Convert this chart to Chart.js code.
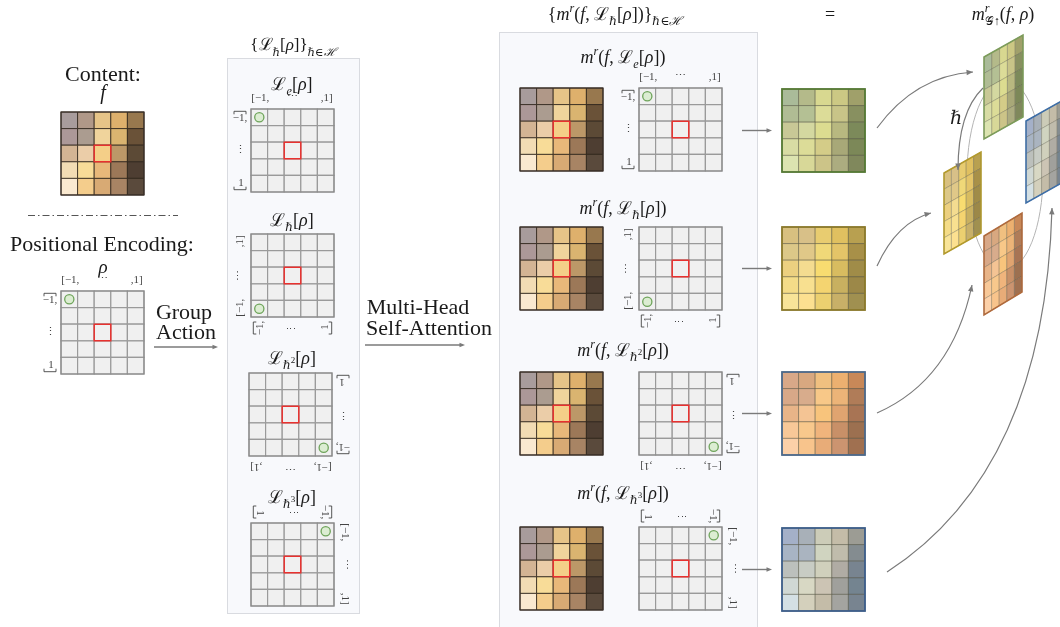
<!DOCTYPE html>
<html>
<head>
<meta charset="utf-8">
<script src="https://cdn.jsdelivr.net/npm/chart.js@4.4.1/dist/chart.umd.min.js"></script>
<style>
  html, body { margin: 0; padding: 0; background: #fff; }
</style>
</head>
<body>
<canvas id="diagram" width="1060" height="627"></canvas>
<script>
// --- data ---
const CELL = 16.6;

// content feature f, 5x5
const contentColors = [
  ['#a89c9c', '#b09888', '#e6c488', '#deb06c', '#98784e'],
  ['#ac9898', '#ab9c90', '#f0d49c', '#dab470', '#6a5238'],
  ['#d3b494', '#ebcda8', '#f4cf88', '#bc9868', '#5c4a36'],
  ['#f2dcb4', '#f8dc98', '#e8b87a', '#9c7858', '#4e3e32'],
  ['#fae9d0', '#f4cd8c', '#d8aa74', '#a88464', '#5a4a3c']
];
// outputs m^r(f, L_h[rho]) for e, h, h^2, h^3
const greenColors = [
  ['#aabb99', '#b4ba8a', '#d8d890', '#ccc884', '#a0a06a'],
  ['#b0bc94', '#b4c094', '#dcdc98', '#c8c488', '#889060'],
  ['#c8c896', '#d4d8a0', '#dcdc90', '#b8b880', '#7c8a5a'],
  ['#d8dca4', '#dcdc98', '#d4cc88', '#a8a878', '#7c8858'],
  ['#dce4b0', '#d8d898', '#ccc488', '#acac80', '#80885c']
];
const yellowColors = [
  ['#d8c080', '#d8c088', '#e8cc70', '#e0c060', '#b8a050'],
  ['#dcc888', '#e0c888', '#f0d878', '#e4c468', '#a89048'],
  ['#ecd080', '#f4dc90', '#f8dc70', '#d8bc60', '#a08c48'],
  ['#f4dc88', '#f8e090', '#f4d470', '#c8b060', '#9c8848'],
  ['#f8e498', '#fce090', '#ecd070', '#c8b068', '#a09050']
];
const orangeColors = [
  ['#d8a888', '#d8a880', '#f0c080', '#ecb070', '#c88858'],
  ['#d8a888', '#d8ac8c', '#f8c888', '#ecb478', '#b07c58'],
  ['#e8b488', '#f4c494', '#f8c47c', '#e0a470', '#a87454'],
  ['#f8c898', '#f8c88c', '#f0b47c', '#c89068', '#9c7050'],
  ['#fcd0a8', '#f8c48c', '#e8ac78', '#cc9470', '#a07050']
];
const blueColors = [
  ['#a4b0c8', '#a8b0b8', '#ccccb8', '#c4bca8', '#9c9c94'],
  ['#a8b4c4', '#aab4c0', '#d0d4c0', '#c0bcac', '#848c90'],
  ['#bcc0bc', '#c8ccc4', '#d0d0bc', '#b0aca4', '#788490'],
  ['#d0d8d4', '#d8d8c4', '#ccc4b4', '#a0a09c', '#748490'],
  ['#d4e0e4', '#d4d0bc', '#c4bca8', '#a4a4a0', '#788490']
];

// tick labels of the positional encoding grids
const colLabels = ['[\u22121,', '\u22ef', ',1]'];
const rowLabels = ['\u22121,', '\u22ee', '1'];

// --- layout ---
const contentGrids = [
  { x: 61, y: 112 }, { x: 520, y: 88 }, { x: 520, y: 227 }, { x: 520, y: 372 }, { x: 520, y: 527 }
];
const posGrids = [
  { x: 61, y: 291, k: 0 },
  { x: 251, y: 109, k: 0 }, { x: 251, y: 234, k: 1 }, { x: 249, y: 373, k: 2 }, { x: 251, y: 523, k: 3 },
  { x: 639, y: 88, k: 0 }, { x: 639, y: 227, k: 1 }, { x: 639, y: 372, k: 2 }, { x: 639, y: 527, k: 3 }
];
const outGrids = [
  { x: 782, y: 89, colors: greenColors, edge: '#567a36' },
  { x: 782, y: 227, colors: yellowColors, edge: '#8c7a2c' },
  { x: 782, y: 372, colors: orangeColors, edge: '#4d6a8c' },
  { x: 782, y: 528, colors: blueColors, edge: '#3d5f8c' }
];
const panels3d = [
  { x: 984, y: 57, w: 39, h: 82, dy: 22, colors: greenColors, edge: '#7c9c5a' },
  { x: 1026, y: 121, w: 39, h: 82, dy: 22, colors: blueColors, edge: '#3d6ea8' },
  { x: 944, y: 173, w: 37, h: 81, dy: 21, colors: yellowColors, edge: '#b39a2c' },
  { x: 984, y: 236, w: 38, h: 79, dy: 23, colors: orangeColors, edge: '#b06a3c' }
];

const FONT = '"Liberation Serif", "DejaVu Serif", serif';

function cellPoints(g) {
  const pts = [];
  for (let i = 0; i < 5; i++) {
    for (let j = 0; j < 5; j++) pts.push({ x: g.x + (j + 0.5) * CELL, y: g.y + (i + 0.5) * CELL });
  }
  return pts;
}
function centerOf(g) {
  return { x: g.x + 2.5 * CELL, y: g.y + 2.5 * CELL };
}
// green marker: cell (0,0) rotated counter-clockwise k times
function markerOf(g) {
  let dx = -2 * CELL, dy = -2 * CELL;
  for (let r = 0; r < g.k; r++) { const t = dx; dx = dy; dy = -t; }
  const c = centerOf(g);
  return { x: c.x + dx, y: c.y + dy };
}

const datasets = [];
datasets.push({
  data: posGrids.map(markerOf), order: 0,
  pointStyle: 'circle', pointRadius: 4.6,
  pointBackgroundColor: '#dcedd2', pointBorderColor: '#6ea45a', pointBorderWidth: 1.3
});
datasets.push({
  data: posGrids.concat(contentGrids).map(centerOf), order: 0,
  pointStyle: 'rect', pointRadius: CELL / Math.SQRT2,
  pointBackgroundColor: 'rgba(0,0,0,0)', pointBorderColor: '#e8312f', pointBorderWidth: 1.5
});
posGrids.forEach(g => datasets.push({
  data: cellPoints(g), order: 1,
  pointStyle: 'rect', pointRadius: CELL / Math.SQRT2,
  pointBackgroundColor: '#f0f0f0', pointBorderColor: '#9a9a9a', pointBorderWidth: 1.2
}));
contentGrids.forEach(g => datasets.push({
  data: cellPoints(g), order: 1,
  pointStyle: 'rect', pointRadius: CELL / Math.SQRT2,
  pointBackgroundColor: contentColors.flat(), pointBorderColor: 'rgba(45,35,25,0.8)', pointBorderWidth: 1
}));
outGrids.forEach(g => datasets.push({
  data: cellPoints(g), order: 1,
  pointStyle: 'rect', pointRadius: CELL / Math.SQRT2,
  pointBackgroundColor: g.colors.flat(), pointBorderColor: 'rgba(60,60,40,0.4)', pointBorderWidth: 1
}));
datasets.forEach(d => { d.showLine = false; d.clip = false; d.pointHoverRadius = d.pointRadius; });

// --- text helpers ---
function rich(ctx, parts, cx, cy, size) {
  const specs = parts.map(([t, k, noAdv]) => {
    let s = size, dy = 0, it = false;
    if (k === 'i') it = true;
    if (k === 'b') { s = size * 0.68; dy = size * 0.3; it = true; }
    if (k === 'bn') { s = size * 0.68; dy = size * 0.3; }
    if (k === 'p') { s = size * 0.68; dy = -size * 0.42; it = true; }
    if (k === 'q') { s = size * 0.5; dy = -size * 0.05; }
    return { t, font: (it ? 'italic ' : '') + s.toFixed(1) + 'px ' + FONT, dy, noAdv };
  });
  let w = 0;
  specs.forEach(p => { ctx.font = p.font; p.w = ctx.measureText(p.t).width; if (!p.noAdv) w += p.w; });
  let x = cx - w / 2;
  const base = cy + size * 0.32;
  ctx.textAlign = 'left';
  ctx.textBaseline = 'alphabetic';
  specs.forEach(p => { ctx.font = p.font; ctx.fillText(p.t, x, base + p.dy); if (!p.noAdv) x += p.w; });
}

function arrowHead(ctx, x, y, ang, len) {
  ctx.beginPath();
  ctx.moveTo(x, y);
  ctx.lineTo(x - len * Math.cos(ang - 0.4), y - len * Math.sin(ang - 0.4));
  ctx.lineTo(x - len * Math.cos(ang + 0.4), y - len * Math.sin(ang + 0.4));
  ctx.closePath();
  ctx.fill();
}

const L = ['\u2112', 'n'];
const titles = [
  { parts: [['{', 'n'], L, ['\u210f', 'b'], ['[', 'n'], ['\u03c1', 'i'], [']}', 'n'], ['\u210f\u2208\u210b', 'b']], x: 293, y: 45, s: 17 },
  { parts: [L, ['e', 'b'], ['[', 'n'], ['\u03c1', 'i'], [']', 'n']], x: 292, y: 84, s: 18 },
  { parts: [L, ['\u210f', 'b'], ['[', 'n'], ['\u03c1', 'i'], [']', 'n']], x: 292, y: 220, s: 18 },
  { parts: [L, ['\u210f', 'b'], ['2', 'q'], ['[', 'n'], ['\u03c1', 'i'], [']', 'n']], x: 292, y: 358, s: 18 },
  { parts: [L, ['\u210f', 'b'], ['3', 'q'], ['[', 'n'], ['\u03c1', 'i'], [']', 'n']], x: 292, y: 497, s: 18 },
  { parts: [['{', 'n'], ['m', 'i'], ['r', 'p'], ['(', 'n'], ['f', 'i'], [', ', 'n'], L, ['\u210f', 'b'], ['[', 'n'], ['\u03c1', 'i'], [']', 'n'], [')}', 'n'], ['\u210f\u2208\u210b', 'b']], x: 615, y: 14, s: 18 },
  { parts: [['m', 'i'], ['r', 'p'], ['(', 'n'], ['f', 'i'], [', ', 'n'], L, ['e', 'b'], ['[', 'n'], ['\u03c1', 'i'], ['])', 'n']], x: 623, y: 57, s: 18 },
  { parts: [['m', 'i'], ['r', 'p'], ['(', 'n'], ['f', 'i'], [', ', 'n'], L, ['\u210f', 'b'], ['[', 'n'], ['\u03c1', 'i'], ['])', 'n']], x: 623, y: 208, s: 18 },
  { parts: [['m', 'i'], ['r', 'p'], ['(', 'n'], ['f', 'i'], [', ', 'n'], L, ['\u210f', 'b'], ['2', 'q'], ['[', 'n'], ['\u03c1', 'i'], ['])', 'n']], x: 623, y: 350, s: 18 },
  { parts: [['m', 'i'], ['r', 'p'], ['(', 'n'], ['f', 'i'], [', ', 'n'], L, ['\u210f', 'b'], ['3', 'q'], ['[', 'n'], ['\u03c1', 'i'], ['])', 'n']], x: 623, y: 493, s: 18 },
  { parts: [['m', 'i'], ['r', 'p', true], ['\u{1D4A2}\u2191', 'bn'], ['(', 'n'], ['f', 'i'], [', ', 'n'], ['\u03c1', 'i'], [')', 'n']], x: 1003, y: 14, s: 18 },
  { parts: [['=', 'n']], x: 830, y: 14, s: 18 },
  { parts: [['Content:', 'n']], x: 103, y: 74, s: 22 },
  { parts: [['f', 'i']], x: 103, y: 93, s: 20 },
  { parts: [['Positional Encoding:', 'n']], x: 102, y: 244, s: 22 },
  { parts: [['\u03c1', 'i']], x: 103, y: 267, s: 19 },
  { parts: [['Group', 'n']], x: 184, y: 312, s: 22 },
  { parts: [['Action', 'n']], x: 186, y: 332, s: 22 },
  { parts: [['Multi-Head', 'n']], x: 418, y: 307, s: 22 },
  { parts: [['Self-Attention', 'n']], x: 429, y: 328, s: 22 },
  { parts: [['\u210f', 'i']], x: 956, y: 118, s: 19 }
];

const curves = [
  [877, 128, 915, 76, 973, 72],
  [877, 266, 897, 222, 931, 213],
  [877, 413, 952, 380, 972, 285],
  [887, 572, 1045, 470, 1052, 208],
  [983, 88, 958, 112, 958, 170]
];

const diagramPlugin = {
  id: 'diagram',
  beforeDatasetsDraw(chart) {
    const ctx = chart.ctx;
    const X = v => chart.scales.x.getPixelForValue(v);
    const Y = v => chart.scales.y.getPixelForValue(v);
    ctx.save();
    [[227, 58, 359, 613], [499, 32, 757, 640]].forEach(([x0, y0, x1, y1]) => {
      ctx.fillStyle = '#f8f9fc';
      ctx.strokeStyle = '#d9dbe0';
      ctx.lineWidth = 1;
      ctx.fillRect(X(x0), Y(y0), X(x1) - X(x0), Y(y1) - Y(y0));
      ctx.strokeRect(X(x0) + 0.5, Y(y0) + 0.5, X(x1) - X(x0), Y(y1) - Y(y0));
    });
    ctx.restore();
  },
  afterDatasetsDraw(chart) {
    const ctx = chart.ctx;
    const X = v => chart.scales.x.getPixelForValue(v);
    const Y = v => chart.scales.y.getPixelForValue(v);
    ctx.save();

    // outer borders of flat grids
    const side = 5 * CELL;
    ctx.lineWidth = 1.2;
    ctx.strokeStyle = '#8a8a8a';
    posGrids.forEach(g => ctx.strokeRect(X(g.x), Y(g.y), side, side));
    ctx.strokeStyle = '#3a3028';
    contentGrids.forEach(g => ctx.strokeRect(X(g.x), Y(g.y), side, side));
    ctx.lineWidth = 1.8;
    outGrids.forEach(g => { ctx.strokeStyle = g.edge; ctx.strokeRect(X(g.x), Y(g.y), side, side); });

    // tick labels around positional grids (rotated with the grid)
    posGrids.forEach(g => {
      const c = centerOf(g);
      ctx.save();
      ctx.translate(X(c.x), Y(c.y));
      ctx.rotate(-g.k * Math.PI / 2);
      const off = 2.5 * CELL + 11;
      ctx.fillStyle = '#444';
      ctx.font = '11px ' + FONT;
      ctx.textAlign = 'center';
      ctx.textBaseline = 'middle';
      ctx.fillText(colLabels[0], -2 * CELL + 1, -off);
      ctx.fillText(colLabels[1], 0, -off - 1);
      ctx.fillText(colLabels[2], 2 * CELL + 1, -off);
      ctx.fillText(rowLabels[0], -off, -2 * CELL + 1);
      ctx.fillText(rowLabels[1], -off, 0);
      ctx.fillText(rowLabels[2], -off + 1, 2 * CELL - 1);
      ctx.strokeStyle = '#444';
      ctx.lineWidth = 0.9;
      ctx.beginPath();
      ctx.moveTo(-off - 6, -2 * CELL - 3); ctx.lineTo(-off - 6, -2 * CELL - 6);
      ctx.lineTo(-off + 6, -2 * CELL - 6); ctx.lineTo(-off + 6, -2 * CELL - 3);
      ctx.moveTo(-off - 6, 2 * CELL + 3); ctx.lineTo(-off - 6, 2 * CELL + 6);
      ctx.lineTo(-off + 6, 2 * CELL + 6); ctx.lineTo(-off + 6, 2 * CELL + 3);
      ctx.stroke();
      ctx.restore();
    });

    // dash-dot separator
    ctx.strokeStyle = '#555';
    ctx.lineWidth = 1;
    ctx.setLineDash([7, 3, 1.5, 3]);
    ctx.beginPath();
    ctx.moveTo(X(28), Y(215.5)); ctx.lineTo(X(178), Y(215.5));
    ctx.stroke();
    ctx.setLineDash([]);

    // straight arrows
    ctx.strokeStyle = '#7a7a7a';
    ctx.fillStyle = '#7a7a7a';
    ctx.lineWidth = 1.4;
    const straight = [[154, 218, 347], [365, 465, 345]].concat(outGrids.map(g => [742, 772, g.y + 2.5 * CELL]));
    straight.forEach(([x0, x1, y]) => {
      ctx.beginPath(); ctx.moveTo(X(x0), Y(y)); ctx.lineTo(X(x1) - 4, Y(y)); ctx.stroke();
      arrowHead(ctx, X(x1), Y(y), 0, 6);
    });

    // orbit ellipse
    ctx.strokeStyle = '#b4b4b4';
    ctx.lineWidth = 1;
    ctx.beginPath();
    ctx.ellipse(X(1005), Y(175), 38, 95, 0, 0, Math.PI * 2);
    ctx.stroke();

    // skewed feature maps
    panels3d.forEach(p => {
      const P = (u, v) => [X(p.x + u * p.w), Y(p.y + v * p.h - u * p.dy)];
      for (let i = 0; i < 5; i++) {
        for (let j = 0; j < 5; j++) {
          const q = [P(j / 5, i / 5), P((j + 1) / 5, i / 5), P((j + 1) / 5, (i + 1) / 5), P(j / 5, (i + 1) / 5)];
          ctx.beginPath();
          ctx.moveTo(q[0][0], q[0][1]);
          q.slice(1).forEach(pt => ctx.lineTo(pt[0], pt[1]));
          ctx.closePath();
          ctx.fillStyle = p.colors[i][j];
          ctx.fill();
          ctx.strokeStyle = 'rgba(70,70,50,0.35)';
          ctx.lineWidth = 0.8;
          ctx.stroke();
        }
      }
      const c = [P(0, 0), P(1, 0), P(1, 1), P(0, 1)];
      ctx.beginPath();
      ctx.moveTo(c[0][0], c[0][1]);
      c.slice(1).forEach(pt => ctx.lineTo(pt[0], pt[1]));
      ctx.closePath();
      ctx.strokeStyle = p.edge;
      ctx.lineWidth = 1.5;
      ctx.stroke();
    });

    // curved arrows
    ctx.strokeStyle = '#7a7a7a';
    ctx.fillStyle = '#7a7a7a';
    ctx.lineWidth = 1.2;
    curves.forEach(([x0, y0, cx, cy, x1, y1]) => {
      ctx.beginPath();
      ctx.moveTo(X(x0), Y(y0));
      ctx.quadraticCurveTo(X(cx), Y(cy), X(x1), Y(y1));
      ctx.stroke();
      arrowHead(ctx, X(x1), Y(y1), Math.atan2(Y(y1) - Y(cy), X(x1) - X(cx)), 7);
    });

    // text
    ctx.fillStyle = '#1a1a1a';
    titles.forEach(t => rich(ctx, t.parts, X(t.x), Y(t.y), t.s));
    ctx.restore();
  }
};

new Chart(document.getElementById('diagram'), {
  type: 'scatter',
  data: { datasets },
  options: {
    responsive: false,
    animation: false,
    events: [],
    layout: { padding: 0, autoPadding: false },
    plugins: { legend: { display: false }, tooltip: { enabled: false } },
    scales: {
      x: { type: 'linear', min: 0, max: 1060, display: false },
      y: { type: 'linear', min: 0, max: 627, reverse: true, display: false }
    }
  },
  plugins: [diagramPlugin]
});
</script>
</body>
</html>
